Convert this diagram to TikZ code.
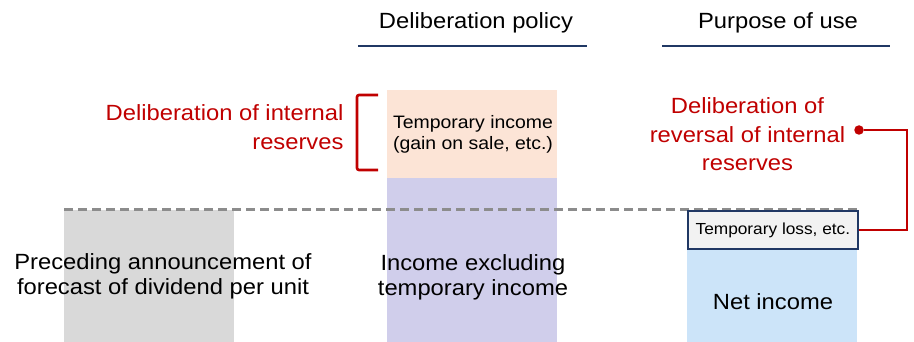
\documentclass[tikz,border=0pt]{standalone}
\usepackage{fontspec}
\setmainfont[FakeStretch=1.08]{Liberation Sans}
\usepackage{tikz}
\usepackage{xcolor}
\usetikzlibrary{arrows.meta, positioning, calc}
\definecolor{accentred}{HTML}{C00000}
\definecolor{navy}{HTML}{203864}
\definecolor{dashgray}{HTML}{8C8C8C}
\definecolor{grayfill}{HTML}{D9D9D9}
\definecolor{peachfill}{HTML}{FCE4D6}
\definecolor{lilacfill}{HTML}{D0CEEB}
\definecolor{bluefill}{HTML}{CCE4F9}
\definecolor{lossfill}{HTML}{F2F2F2}

\begin{document}
\begin{tikzpicture}[x=1pt, y=-1pt,
    bar/.style={rectangle, anchor=north west, inner sep=0pt, minimum width=170pt},
    big/.style={align=center, font=\fontsize{22}{25}\selectfont},
    head/.style={font=\fontsize{22}{25}\selectfont},
    redtext/.style={align=center, text=accentred, font=\fontsize{22}{28.5}\selectfont},
    headrule/.style={navy, line width=2.2pt},
    redline/.style={accentred, line width=2.6pt},
    reddot/.style={circle, fill=accentred, minimum size=9.5pt, inner sep=0pt}]
    \useasboundingbox (0,0) rectangle (914,342);
    \node[head] (policy) at (476,22.5) {Deliberation policy};
    \node[head] (purpose) at (778,22.5) {Purpose of use};
    \draw[headrule] (358,46) -- (587,46);
    \draw[headrule] (662,46) -- (890,46);
    \node[bar, fill=grayfill, minimum height=132pt] (prec) at (64,210) {};
    \node[bar, fill=peachfill, minimum height=88pt] (tmpinc) at (387,90) {};
    \node[bar, fill=lilacfill, minimum height=164pt] (incex) at (387,178) {};
    \node[bar, fill=bluefill, minimum height=94pt] (netinc) at (687,248) {};
    \draw[dashgray, line width=3pt, dash pattern=on 9pt off 5pt] (prec.north west) -- (prec.north west -| netinc.east);
    \node[bar, fill=lossfill, draw=navy, line width=1.8pt, minimum width=170pt, minimum height=38pt] (loss) at (687,210) {};
    \node[font=\fontsize{16}{19}\selectfont] (losstext) at (loss.center) {Temporary loss, etc.};
    \node[align=center, font=\fontsize{18}{21}\selectfont] (tmptext) at (473,134.5) {Temporary income\\(gain on sale, etc.)};
    \node[big] (prectext) at (163,276) {Preceding announcement of\\forecast of dividend per unit};
    \node[big] (incextext) at (473,277) {Income excluding\\temporary income};
    \node[big] (nettext) at (773,302) {Net income};
    \node[redtext, align=right, anchor=east] (resv) at (347,127) {Deliberation of internal\\reserves};
    \draw[redline, rounded corners=2pt] (378,95) -- (357,95) -- (357,170) -- (378,170);
    \node[redtext] (revresv) at (747.5,134.5) {Deliberation of\\reversal of internal\\reserves};
    \node[reddot] (dot) at (859,130) {};
    \draw[redline] (loss.east) -- ++(48,0) |- (dot);
\end{tikzpicture}
\end{document}
